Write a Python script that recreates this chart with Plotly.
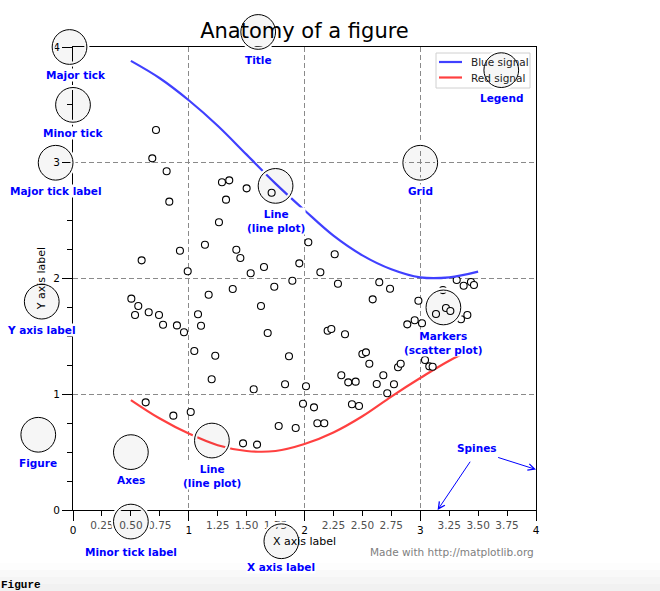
import plotly.graph_objects as go

# curves, every 0.25 on x
line_x = [0.5, 0.75, 1.0, 1.25, 1.5, 1.75, 2.0, 2.25, 2.5, 2.75, 3.0, 3.25, 3.5]
blue_y = [3.88, 3.73, 3.54, 3.32, 3.07, 2.82, 2.59, 2.37, 2.20, 2.08, 2.01, 2.01, 2.06]
red_y = [0.95, 0.79, 0.66, 0.56, 0.51, 0.51, 0.57, 0.67, 0.81, 0.98, 1.14, 1.29, 1.41]

# scatter markers
scatter_x = [0.504, 0.536, 0.564, 0.593, 0.628, 0.654, 0.685, 0.717, 0.743, 0.778,
             0.809, 0.832, 0.867, 0.898, 0.924, 0.959, 0.991, 1.017, 1.048, 1.080,
             1.106, 1.140, 1.172, 1.198, 1.229, 1.261, 1.287, 1.322, 1.350, 1.380,
             1.411, 1.446, 1.469, 1.500, 1.535, 1.561, 1.590, 1.624, 1.650, 1.682,
             1.716, 1.739, 1.777, 1.832, 1.866, 1.895, 1.924, 1.955, 1.987, 2.013,
             2.033, 2.082, 2.111, 2.137, 2.171, 2.200, 2.232, 2.261, 2.289, 2.318,
             2.350, 2.378, 2.410, 2.442, 2.471, 2.500, 2.531, 2.560, 2.589, 2.624,
             2.646, 2.681, 2.715, 2.739, 2.773, 2.808, 2.831, 2.888, 2.952, 2.984,
             3.015, 3.041, 3.078, 3.107, 3.136, 3.196, 3.222, 3.260, 3.315, 3.352,
             3.375, 3.407, 3.438, 3.464]
scatter_y = [1.826, 1.685, 1.762, 2.157, 0.930, 1.708, 3.038, 3.283, 1.685, 1.601,
             2.926, 2.664, 0.815, 1.595, 2.240, 1.535, 2.062, 0.847, 1.374, 1.691,
             1.592, 2.292, 1.860, 1.129, 1.333, 2.486, 2.831, 2.681, 2.848, 1.909,
             2.249, 2.177, 0.576, 2.779, 2.045, 1.043, 0.565, 1.762, 2.099, 1.529,
             2.741, 1.929, 0.726, 1.086, 1.328, 1.981, 0.708, 2.131, 0.918, 1.069,
             2.313, 0.887, 0.749, 2.054, 0.749, 1.549, 1.564, 2.209, 1.955, 1.164,
             1.518, 1.103, 0.913, 1.109, 0.898, 1.348, 1.362, 1.264, 1.820, 1.089,
             1.967, 1.164, 1.008, 1.912, 1.086, 1.233, 1.264, 1.604, 1.639, 1.808,
             1.613, 1.296, 1.241, 1.238, 1.693, 1.900, 1.745, 1.719, 1.987, 1.648,
             1.938, 1.685, 1.970, 1.944]

minor_ticks = [0.25, 0.50, 0.75, 1.25, 1.50, 1.75, 2.25, 2.50, 2.75, 3.25, 3.50, 3.75]
minor_labels = ["0.25", "0.50", "0.75", "1.25", "1.50", "1.75",
                "2.25", "2.50", "2.75", "3.25", "3.50", "3.75"]

# callouts: circle centre and label (top) in data units
callout_text = ["Minor tick label", "Major tick", "Minor tick", "Major tick label",
                "X axis label", "Y axis label", "Title", "Line<br>(line plot)",
                "Line<br>(line plot)", "Markers<br>(scatter plot)", "Grid", "Legend",
                "Axes", "Figure"]
circle_x = [0.50, -0.03, 0.00, -0.15, 1.80, -0.27, 1.60, 1.75, 1.20, 3.20, 3.00, 3.70, 0.5, -0.3]
circle_y = [-0.10, 4.00, 3.50, 3.00, -0.27, 1.80, 4.13, 2.80, 0.60, 1.75, 3.00, 3.80, 0.5, 0.65]
label_x = [0.50, 0.03, 0.00, -0.15, 1.80, -0.27, 1.60, 1.75, 1.20, 3.20, 3.00, 3.70, 0.5, -0.3]
label_y = [-0.32, 3.80, 3.30, 2.80, -0.45, 1.60, 3.93, 2.60, 0.40, 1.55, 2.80, 3.60, 0.3, 0.45]
RADIUS = 0.15

LO, HI = 0.0, 4.0
FONT = "DejaVu Sans"
BLUE = "rgb(64,64,255)"
RED = "rgb(255,64,64)"

W, H = 660, 591
ML, MT, PLOT = 73, 47, 463   # plot area: left, top, side (square)


def paper(v):
    # data -> paper fraction (both axes share the same 0..4 range)
    return (v - LO) / (HI - LO)


def px_x(p):
    return (p - ML) / PLOT


def px_y(p):
    return (MT + PLOT - p) / PLOT


fig = go.Figure()

fig.add_trace(go.Scatter(x=line_x, y=red_y, mode="lines", name="Red signal", showlegend=False,
                         line=dict(color=RED, width=2.2, shape="spline")))
fig.add_trace(go.Scatter(x=scatter_x, y=scatter_y, mode="markers", showlegend=False,
                         marker=dict(size=7, color="white",
                                     line=dict(color="black", width=1.1))))
fig.add_trace(go.Scatter(x=line_x, y=blue_y, mode="lines", name="Blue signal", showlegend=False,
                         line=dict(color=BLUE, width=2.2, shape="spline")))
# dummy trace so the minor-label axis gets drawn
fig.add_trace(go.Scatter(x=[LO], y=[LO], xaxis="x2", mode="markers", showlegend=False,
                         hoverinfo="skip", marker=dict(opacity=0)))

axis_style = dict(
    range=[LO, HI], tick0=0, dtick=1, showgrid=True, gridcolor="#8a8a8a", gridwidth=0.7,
    griddash="5px,3px", zeroline=False, showline=True, linecolor="black", linewidth=1,
    mirror=True, ticks="outside", ticklen=10, tickwidth=1, tickcolor="black",
    tickfont=dict(family=FONT, size=10.5, color="black"), layer="below traces",
    fixedrange=True,
)

fig.update_layout(
    width=W, height=H,
    margin=dict(l=ML, r=W - ML - PLOT, t=MT, b=H - MT - PLOT),
    paper_bgcolor="white", plot_bgcolor="white",
    font=dict(family=FONT, size=11, color="black"),
    hovermode=False,
    showlegend=False,
    title=dict(text="Anatomy of a figure", xref="paper", x=0.5, xanchor="center",
               yref="container", y=1 - 31 / H, yanchor="middle",
               font=dict(family=FONT, size=21, color="black")),
    xaxis=dict(**axis_style),
    xaxis2=dict(overlaying="x", anchor="y", side="bottom", range=[LO, HI],
                tickmode="array", tickvals=minor_ticks, ticktext=minor_labels,
                ticks="outside", ticklen=5, tickwidth=1, tickcolor="black",
                tickfont=dict(family=FONT, size=10.5, color="#505050"),
                showgrid=False, zeroline=False, showline=False,
                layer="below traces", fixedrange=True),
    yaxis=dict(**axis_style,
               minor=dict(dtick=0.25, ticks="outside", ticklen=5, tickwidth=1,
                          tickcolor="black", showgrid=False)),
)

# legend box drawn by hand (plotly's own rows are too tall here)
legend_names = ["Blue signal", "Red signal"]
legend_colors = [BLUE, RED]
legend_rows = [62, 77.5]
fig.add_shape(type="rect", xref="paper", yref="paper", layer="above",
              x0=px_x(436), x1=px_x(530), y0=px_y(88), y1=px_y(53),
              line=dict(color="#d0d0d0", width=1), fillcolor="rgba(255,255,255,0.8)")
for name, col, row in zip(legend_names, legend_colors, legend_rows):
    fig.add_shape(type="line", xref="paper", yref="paper", layer="above",
                  x0=px_x(439), x1=px_x(462), y0=px_y(row), y1=px_y(row),
                  line=dict(color=col, width=2.2))
    fig.add_annotation(text=name, xref="paper", yref="paper", x=px_x(469), y=px_y(row),
                       xanchor="left", yanchor="middle", showarrow=False,
                       font=dict(family=FONT, size=10.5, color="#222222"))

# circles: white halo first, then thin black ring
for cx, cy in zip(circle_x, circle_y):
    box = dict(type="circle", xref="paper", yref="paper", layer="above",
               x0=paper(cx - RADIUS), x1=paper(cx + RADIUS),
               y0=paper(cy - RADIUS), y1=paper(cy + RADIUS))
    fig.add_shape(**box, line=dict(color="white", width=5), fillcolor="rgba(0,0,0,0)")
    fig.add_shape(**box, line=dict(color="black", width=1), fillcolor="rgba(0,0,0,0.035)")

for txt, lx, ly in zip(callout_text, label_x, label_y):
    fig.add_annotation(text="<b>%s</b>" % txt, xref="paper", yref="paper",
                       x=paper(lx), y=paper(ly), xanchor="center", yanchor="top",
                       yshift=2, showarrow=False, bgcolor="white", borderpad=0,
                       font=dict(family=FONT, size=10.5, color="blue"))

# axis labels
fig.add_annotation(text="X axis label", xref="paper", yref="paper", x=paper(2.0),
                   y=paper(-0.27), xanchor="center", yanchor="middle", showarrow=False,
                   font=dict(family=FONT, size=11, color="black"))
fig.add_annotation(text="Y axis label", xref="paper", yref="paper", x=paper(-0.27),
                   y=paper(2.0), xanchor="center", yanchor="middle", textangle=-90,
                   showarrow=False, font=dict(family=FONT, size=11, color="black"))

# spines
fig.add_annotation(text="<b>Spines</b>", xref="paper", yref="paper", x=paper(3.3),
                   y=paper(0.535), xanchor="left", yanchor="middle", showarrow=False,
                   font=dict(family=FONT, size=10.5, color="blue"))
fig.add_annotation(text="", x=4.0, y=0.35, ax=3.66, ay=0.458, xref="x", yref="y",
                   axref="x", ayref="y", showarrow=True, arrowhead=5, arrowsize=1.3,
                   arrowwidth=1, arrowcolor="blue")
fig.add_annotation(text="", x=3.15, y=0.0, ax=3.44, ay=0.43, xref="x", yref="y",
                   axref="x", ayref="y", showarrow=True, arrowhead=5, arrowsize=1.3,
                   arrowwidth=1, arrowcolor="blue")

fig.add_annotation(text="Made with http://matplotlib.org", xref="paper", yref="paper",
                   x=paper(4.0), y=paper(-0.363), xanchor="right", yanchor="middle",
                   showarrow=False, font=dict(family=FONT, size=10.5, color="#808080"))

# notebook strip at the very bottom
band_top = [563, 570, 577, 584]
band_bottom = [570, 577, 584, 592]
band_color = ["#fdfdfd", "#f9f9f9", "#f5f5f5", "#f1f1f1"]
for t, b, c in zip(band_top, band_bottom, band_color):
    fig.add_shape(type="rect", xref="paper", yref="paper", layer="below",
                  x0=px_x(0), x1=px_x(W), y0=px_y(b), y1=px_y(t),
                  line=dict(width=0), fillcolor=c)
fig.add_annotation(text="<b>Figure</b>", xref="paper", yref="paper", x=px_x(-1),
                   y=px_y(577), xanchor="left", yanchor="top", showarrow=False,
                   font=dict(family="Liberation Mono", size=11, color="black"))

fig.write_html("out.html", config={"displayModeBar": False},
               post_script="document.body.style.margin = '0px';")
